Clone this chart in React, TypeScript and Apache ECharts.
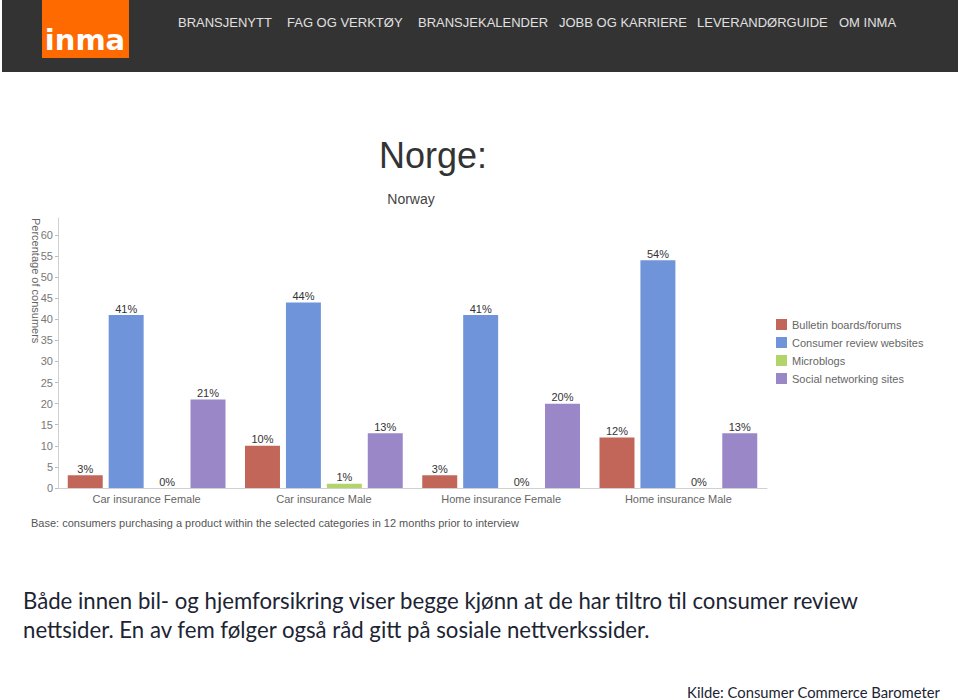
import React, { useEffect, useRef } from "react";
import * as echarts from "echarts";

const categories = ["Car insurance Female", "Car insurance Male", "Home insurance Female", "Home insurance Male"];
const seriesNames = ["Bulletin boards/forums", "Consumer review websites", "Microblogs", "Social networking sites"];
const bulletin = [3, 10, 3, 12];
const review = [41, 44, 41, 54];
const microblogs = [0, 1, 0, 0];
const social = [21, 13, 20, 13];
const colors = ["#c2665a", "#7094da", "#b2d56b", "#9a87c8"];
const yTicks = [0, 5, 10, 15, 20, 25, 30, 35, 40, 45, 50, 55, 60];
const navItems = ["BRANSJENYTT", "FAG OG VERKTØY", "BRANSJEKALENDER", "JOBB OG KARRIERE", "LEVERANDØRGUIDE", "OM INMA"];
const navX = [178, 287, 418, 559, 697, 839];

export default function App() {
  const ref = useRef<HTMLDivElement>(null);
  useEffect(() => {
    if (!ref.current) return;
    const chart = echarts.init(ref.current, undefined, { renderer: "svg" });
    const font = "'Liberation Sans', Arial, sans-serif";
    const data = [bulletin, review, microblogs, social];
    chart.setOption({
      animation: false,
      backgroundColor: "#ffffff",
      textStyle: { fontFamily: font },
      grid: { left: 58, right: 193, top: 218, bottom: 212 },
      legend: {
        orient: "vertical",
        left: 771,
        top: 314,
        itemWidth: 11,
        itemHeight: 11,
        itemGap: 7,
        icon: "rect",
        textStyle: { color: "#666", fontSize: 11, fontFamily: font },
        data: seriesNames,
      },
      xAxis: {
        type: "category",
        data: categories,
        axisLine: { lineStyle: { color: "#d0d0d0" } },
        axisTick: { alignWithLabel: true, length: 3, lineStyle: { color: "#bbb" } },
        axisLabel: { color: "#666", fontSize: 11, margin: 5 },
      },
      yAxis: {
        type: "value",
        min: 0,
        max: 64,
        interval: 5,
        splitLine: { show: false },
        axisLine: { show: true, lineStyle: { color: "#d0d0d0" } },
        axisTick: { show: true, length: 3, lineStyle: { color: "#bbb" }, customValues: yTicks },
        axisLabel: { color: "#777", fontSize: 11, margin: 5, customValues: yTicks },
      },
      series: seriesNames.map((name, i) => ({
        name,
        type: "bar",
        data: data[i],
        barGap: "17%",
        barCategoryGap: "11%",
        itemStyle: { color: colors[i] },
        label: {
          show: true,
          position: "top",
          distance: 1,
          formatter: "{c}%",
          color: "#333",
          fontSize: 11,
        },
      })),
      graphic: [
        { type: "rect", shape: { x: 2, y: 0, width: 956, height: 72 }, style: { fill: "#333333" } },
        { type: "rect", shape: { x: 42, y: 0, width: 87, height: 58 }, style: { fill: "#ff6a00" } },
        {
          type: "text",
          x: 85,
          y: 40,
          style: { text: "inma", fill: "#fff", font: "bold 29px 'DejaVu Sans', sans-serif", align: "center", verticalAlign: "middle" },
        },
        ...navItems.map((t, i) => ({
          type: "text",
          x: navX[i],
          y: 22,
          style: { text: t, fill: "#e0e0e0", font: `13px ${font}`, align: "left", verticalAlign: "middle" },
        })),
        {
          type: "text",
          x: 433,
          y: 155,
          style: { text: "Norge:", fill: "#333", font: `36px ${font}`, align: "center", verticalAlign: "middle" },
        },
        {
          type: "text",
          x: 411,
          y: 199,
          style: { text: "Norway", fill: "#444", font: `14px ${font}`, align: "center", verticalAlign: "middle" },
        },
        {
          type: "text",
          x: 36,
          y: 218,
          rotation: -Math.PI / 2,
          style: { text: "Percentage of consumers", fill: "#666", font: `11px ${font}`, align: "left", verticalAlign: "middle" },
        },
        {
          type: "text",
          x: 31,
          y: 523,
          style: {
            text: "Base: consumers purchasing a product within the selected categories in 12 months prior to interview",
            fill: "#555",
            font: `11px ${font}`,
            align: "left",
            verticalAlign: "middle",
          },
        },
        {
          type: "text",
          x: 23,
          y: 600,
          style: {
            text: "Både innen bil- og hjemforsikring viser begge kjønn at de har tiltro til consumer review",
            fill: "#1c2433",
            font: "22.2px Lato, 'Open Sans', sans-serif",
            align: "left",
            verticalAlign: "middle",
          },
        },
        {
          type: "text",
          x: 23,
          y: 629,
          style: {
            text: "nettsider. En av fem følger også råd gitt på sosiale nettverkssider.",
            fill: "#1c2433",
            font: "22.2px Lato, 'Open Sans', sans-serif",
            align: "left",
            verticalAlign: "middle",
          },
        },
        {
          type: "text",
          x: 940,
          y: 692,
          style: {
            text: "Kilde: Consumer Commerce Barometer",
            fill: "#1c2433",
            font: "14.8px Lato, 'Open Sans', sans-serif",
            align: "right",
            verticalAlign: "middle",
          },
        },
      ],
    });
    return () => chart.dispose();
  }, []);
  return (
    <div
      ref={ref}
      style={{ position: "fixed", left: 0, top: 0, width: 960, height: 700 }}
    />
  );
}
